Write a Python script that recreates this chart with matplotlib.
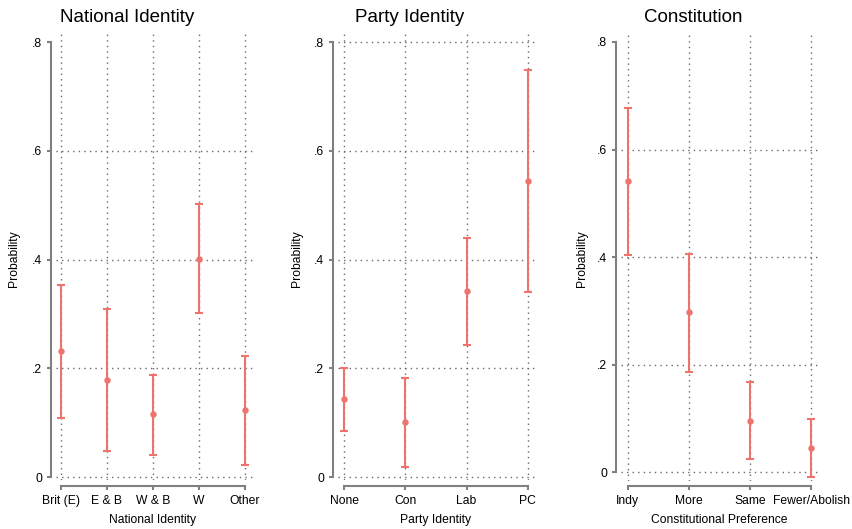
import matplotlib
matplotlib.use("Agg")
import matplotlib.pyplot as plt

plt.rcParams['font.family'] = ['Liberation Sans', 'DejaVu Sans']

# values
nat_labels = ["Brit (E)", "E & B", "W & B", "W", "Other"]
nat_est = [0.232, 0.178, 0.115, 0.401, 0.123]
nat_lo = [0.109, 0.047, 0.040, 0.302, 0.023]
nat_hi = [0.353, 0.309, 0.188, 0.503, 0.223]

party_labels = ["None", "Con", "Lab", "PC"]
party_est = [0.143, 0.101, 0.342, 0.544]
party_lo = [0.085, 0.019, 0.242, 0.341]
party_hi = [0.201, 0.182, 0.440, 0.748]

const_labels = ["Indy", "More", "Same", "Fewer/Abolish"]
const_est = [0.541, 0.297, 0.095, 0.045]
const_lo = [0.403, 0.186, 0.024, -0.009]
const_hi = [0.678, 0.406, 0.167, 0.099]

ytick_vals = [0, 0.2, 0.4, 0.6, 0.8]
ytick_labels = ["0", ".2", ".4", ".6", ".8"]

W, H = 853, 529
RED = "#EE736D"
GRAY = "#808080"
GRID = "#6a6a6a"
FS = 8.7

fig = plt.figure(figsize=(W / 100, H / 100), dpi=100)


def px_axes(x0, x1, y0, y1):
    # pixel box (from top-left) -> figure fraction
    return fig.add_axes([x0 / W, 1 - y1 / H, (x1 - x0) / W, (y1 - y0) / H])


def panel(box, xlim, ylim, labels, est, lo, hi, hgrid, title, title_x,
          ylab_x, xlabel, bottom_off):
    ax = px_axes(*box)
    xs = list(range(len(labels)))
    ax.set_xlim(*xlim)
    ax.set_ylim(*ylim)

    dots = (0, (1, 3.0))
    for x in xs:
        ax.axvline(x, color=GRID, lw=1.0, ls=dots, zorder=1)
    for y in hgrid:
        ax.axhline(y, color=GRID, lw=1.0, ls=dots, zorder=1)

    yerr = [[e - l for e, l in zip(est, lo)], [h - e for e, h in zip(est, hi)]]
    ax.errorbar(xs, est, yerr=yerr, fmt='o', color=RED, ecolor=RED,
                ms=3.6, elinewidth=1.5, capsize=2.8, capthick=1.5, zorder=3)

    for s in ["top", "right"]:
        ax.spines[s].set_visible(False)
    ax.spines["left"].set_position(("outward", 3.6))
    ax.spines["bottom"].set_position(("outward", bottom_off))
    ax.spines["left"].set_bounds(0, 0.8)
    ax.spines["bottom"].set_bounds(xs[0], xs[-1])
    for s in ["left", "bottom"]:
        ax.spines[s].set_color(GRAY)
        ax.spines[s].set_linewidth(1.5)

    ax.set_yticks(ytick_vals)
    ax.set_yticklabels(ytick_labels)
    ax.set_xticks(xs)
    ax.set_xticklabels(labels)
    ax.tick_params(axis="both", colors=GRAY, width=1.5, length=3,
                   labelcolor="black", labelsize=FS)
    ax.tick_params(axis="y", pad=3.2)
    ax.tick_params(axis="x", pad=3.5)

    # axis label centred under the categories
    x0, x1 = xlim
    xc = ((xs[0] + xs[-1]) / 2 - x0) / (x1 - x0)
    hpx = box[3] - box[2]
    ax.set_xlabel(xlabel, fontsize=FS)
    ax.xaxis.set_label_coords(xc, -(520 - box[3]) / hpx)
    ax.xaxis.label.set_va("center")

    fig.text(ylab_x / W, 1 - 259 / H, "Probability", rotation=90,
             ha="center", va="center", fontsize=FS)
    fig.text(title_x / W, 1 - 18 / H, title, ha="center", va="center",
             fontsize=13.5)
    return ax


panel((56, 254, 32, 480), (-0.11, 4.2), (-0.0055, 0.8184),
      nat_labels, nat_est, nat_lo, nat_hi, [0, 0.2, 0.4, 0.6],
      "National Identity", 127, 14, "National Identity", 4.3)
panel((338, 537, 32, 480), (-0.1, 3.15), (-0.0055, 0.8184),
      party_labels, party_est, party_lo, party_hi, [0, 0.2, 0.4, 0.6, 0.8],
      "Party Identity", 410, 297, "Party Identity", 4.3)
panel((621, 821, 32, 481), (-0.11, 3.16), (-0.0167, 0.8186),
      const_labels, const_est, const_lo, const_hi, [0, 0.2, 0.4, 0.6],
      "Constitution", 693.5, 582, "Constitutional Preference", 3.6)

fig.savefig("out.png", dpi=100, facecolor="white")
